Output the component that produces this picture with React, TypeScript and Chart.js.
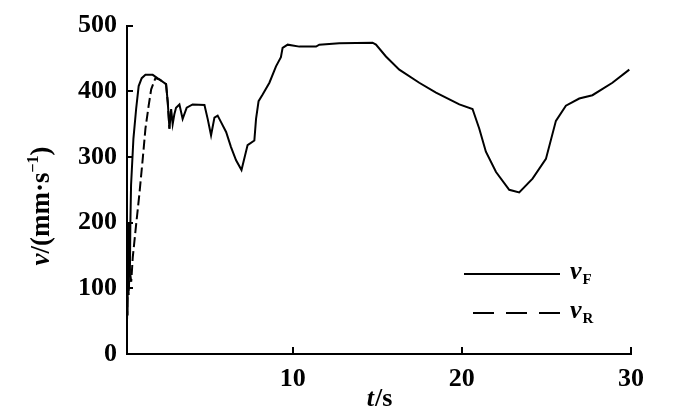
import React, { useEffect, useRef } from "react";
import { Chart, registerables } from "chart.js";

Chart.register(...registerables);

// Time (s) and speed (mm/s) of the front curve vF
const T_F = [0.2, 0.22, 0.25, 0.28, 0.31, 0.34, 0.37, 0.4, 0.44, 0.58, 0.74, 0.89, 1.07, 1.29, 1.72, 2.12, 2.51, 2.61, 2.71, 2.81, 2.9, 3.0, 3.1, 3.3, 3.49, 3.73, 4.08, 4.78, 4.97, 5.17, 5.37, 5.56, 5.76, 6.06, 6.35, 6.65, 6.97, 7.33, 7.73, 7.83, 7.98, 8.22, 8.62, 9.01, 9.3, 9.4, 9.7, 10.39, 11.38, 11.57, 12.75, 14.72, 14.92, 15.51, 16.3, 17.48, 18.47, 19.85, 20.63, 21.03, 21.42, 22.02, 22.8, 23.39, 24.18, 24.97, 25.56, 26.15, 26.94, 27.72, 28.9, 29.9];
const V_F = [60, 110, 75, 200, 100, 190, 120, 200, 257, 328, 373, 408, 420, 425, 425, 418, 411, 383, 343, 373, 350, 365, 375, 380, 358, 375, 380, 379, 358, 333, 360, 363, 353, 338, 315, 295, 280, 318, 325, 358, 385, 395, 413, 438, 452, 466, 471, 468, 468, 471, 473, 474, 471, 453, 433, 413, 398, 380, 373, 343, 308, 277, 250, 246, 267, 297, 355, 378, 389, 394, 413, 433];

// Time (s) and speed (mm/s) of the rear curve vR (it merges with vF after ~2.7 s)
const T_R = [0.2, 0.25, 0.3, 0.35, 0.45, 0.54, 0.74, 0.93, 1.13, 1.29, 1.48, 1.63, 1.88, 2.12, 2.51, 2.61, 2.71];
const V_R = [50, 120, 90, 130, 110, 147, 197, 243, 297, 343, 378, 403, 420, 418, 411, 383, 343];

const X_TICKS = [10, 20, 30];
const Y_TICKS = [0, 100, 200, 300, 400, 500];

const FONT = "'Liberation Serif', 'Times New Roman', serif";

const decorPlugin = {
  id: "decor",
  afterDraw(chart: any) {
    const ctx = chart.ctx as CanvasRenderingContext2D;
    const xs = chart.scales.x;
    const ys = chart.scales.y;
    const area = chart.chartArea;
    ctx.save();
    ctx.strokeStyle = "#000";
    ctx.fillStyle = "#000";
    ctx.lineWidth = 2;
    // inward tick marks
    for (const v of Y_TICKS) {
      if (v === 0) continue;
      const py = Math.round(ys.getPixelForValue(v));
      ctx.beginPath();
      ctx.moveTo(area.left, py);
      ctx.lineTo(area.left + 6, py);
      ctx.stroke();
    }
    for (const t of X_TICKS) {
      const px = Math.round(xs.getPixelForValue(t));
      ctx.beginPath();
      ctx.moveTo(px, area.bottom);
      ctx.lineTo(px, area.bottom - 7);
      ctx.stroke();
    }

    // x axis title: t/s
    ctx.textBaseline = "alphabetic";
    const xt1 = "t";
    const xt2 = "/s";
    ctx.font = `italic bold 26px ${FONT}`;
    const w1 = ctx.measureText(xt1).width;
    ctx.font = `bold 26px ${FONT}`;
    const w2 = ctx.measureText(xt2).width;
    const sx = (area.left + area.right) / 2 - (w1 + w2) / 2;
    const by = 406;
    ctx.font = `italic bold 26px ${FONT}`;
    ctx.fillText(xt1, sx, by);
    ctx.font = `bold 26px ${FONT}`;
    ctx.fillText(xt2, sx + w1 + 1, by);

    // y axis title: v/(mm·s⁻¹), rotated
    ctx.save();
    ctx.translate(49, 206);
    ctx.rotate(-Math.PI / 2);
    const parts = [
      { t: "v", f: `italic bold 27px ${FONT}`, dy: 0 },
      { t: "/(mm·s", f: `bold 27px ${FONT}`, dy: 0 },
      { t: "−1", f: `bold 16px ${FONT}`, dy: -11 },
      { t: ")", f: `bold 27px ${FONT}`, dy: 0 },
    ];
    let total = 0;
    for (const p of parts) {
      ctx.font = p.f;
      total += ctx.measureText(p.t).width;
    }
    let cx = -total / 2;
    for (const p of parts) {
      ctx.font = p.f;
      ctx.fillText(p.t, cx, p.dy);
      cx += ctx.measureText(p.t).width;
    }
    ctx.restore();

    // legend
    ctx.lineWidth = 2;
    ctx.beginPath();
    ctx.setLineDash([]);
    ctx.moveTo(464, 274);
    ctx.lineTo(560, 274);
    ctx.stroke();
    ctx.beginPath();
    ctx.setLineDash([21, 12]);
    ctx.moveTo(473, 313);
    ctx.lineTo(560, 313);
    ctx.stroke();
    ctx.setLineDash([]);
    const legendLabel = (main: string, sub: string, y: number) => {
      ctx.font = `italic bold 26px ${FONT}`;
      ctx.fillText(main, 570, y);
      const w = ctx.measureText(main).width;
      ctx.font = `bold 15px ${FONT}`;
      ctx.fillText(sub, 570 + w + 1, y + 5);
    };
    legendLabel("v", "F", 279);
    legendLabel("v", "R", 318);
    ctx.restore();
  },
};

export default function App() {
  const ref = useRef<HTMLCanvasElement>(null);
  useEffect(() => {
    if (!ref.current) return;
    const chart = new Chart(ref.current, {
      type: "line",
      data: {
        datasets: [
          {
            label: "vF",
            data: T_F.map((t, i) => ({ x: t, y: V_F[i] })),
            borderColor: "#000",
            borderWidth: 2,
            pointRadius: 0,
            tension: 0,
            fill: false,
            order: 0,
          },
          {
            label: "vR",
            data: T_R.map((t, i) => ({ x: t, y: V_R[i] })),
            borderColor: "#000",
            borderWidth: 2,
            borderDash: [10, 4],
            pointRadius: 0,
            tension: 0,
            fill: false,
            order: 1,
          },
        ],
      },
      options: {
        animation: false,
        responsive: false,
        maintainAspectRatio: false,
        layout: { padding: { left: 0, right: 69, top: 22, bottom: 0 } },
        plugins: { legend: { display: false }, tooltip: { enabled: false } },
        scales: {
          x: {
            type: "linear",
            min: 0.2,
            max: 30,
            afterBuildTicks: (s: any) => {
              s.ticks = X_TICKS.map((v) => ({ value: v }));
            },
            afterFit: (s: any) => {
              s.height = 58;
            },
            grid: { display: false, drawTicks: false },
            border: { display: true, color: "#000", width: 2 },
            ticks: {
              color: "#000",
              padding: 10,
              maxRotation: 0,
              font: { family: FONT, size: 26, weight: "bold" },
            },
          },
          y: {
            type: "linear",
            min: 0,
            max: 500,
            afterBuildTicks: (s: any) => {
              s.ticks = Y_TICKS.map((v) => ({ value: v }));
            },
            afterFit: (s: any) => {
              s.width = 127;
            },
            grid: { display: false, drawTicks: false },
            border: { display: true, color: "#000", width: 2 },
            ticks: {
              color: "#000",
              padding: 10,
              font: { family: FONT, size: 26, weight: "bold" },
            },
          },
        },
      },
      plugins: [decorPlugin],
    });
    return () => chart.destroy();
  }, []);
  return (
    <div style={{ position: "fixed", left: 0, top: 0, width: 700, height: 412, background: "#fff" }}>
      <canvas ref={ref} width={700} height={412} style={{ width: 700, height: 412 }} />
    </div>
  );
}
